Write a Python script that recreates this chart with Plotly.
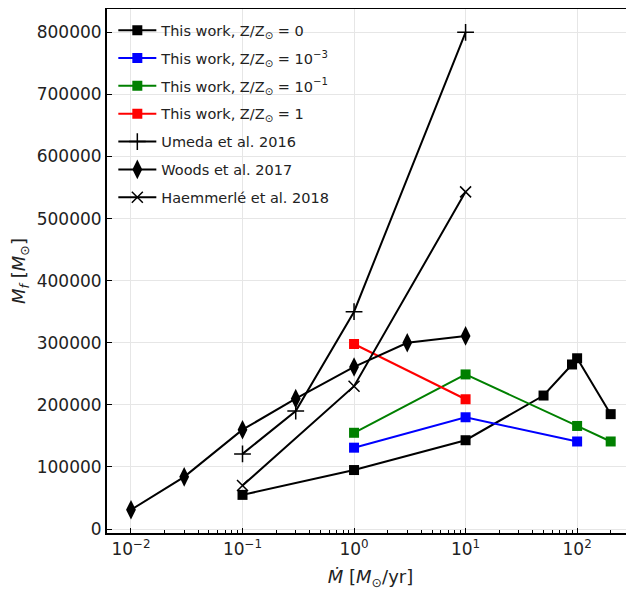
import plotly.graph_objects as go

# Data
z0_x = [0.1, 1, 10, 50, 90, 100, 200]
z0_y = [55000, 95000, 143000, 215000, 265000, 275000, 185000]
z3_x = [1, 10, 100]
z3_y = [131000, 180000, 141000]
z1_x = [1, 10, 100, 200]
z1_y = [155000, 249000, 166000, 141000]
zs_x = [1, 10]
zs_y = [298000, 209000]
umeda_x = [0.1, 0.3, 1, 10]
umeda_y = [121000, 190000, 350000, 800000]
woods_x = [0.01, 0.03, 0.1, 0.3, 1, 3, 10]
woods_y = [31000, 84000, 160000, 210000, 261000, 300000, 311000]
haem_x = [0.1, 1, 10]
haem_y = [70000, 230000, 543000]

x_tickvals = [0.01, 0.1, 1, 10, 100]
x_ticktext = ["10<sup>−2</sup>", "10<sup>−1</sup>", "10<sup>0</sup>", "10<sup>1</sup>", "10<sup>2</sup>"]
x_minorvals = [m * d for d in [0.01, 0.1, 1, 10, 100] for m in range(2, 10)]
y_tickvals = [0, 100000, 200000, 300000, 400000, 500000, 600000, 700000, 800000]
y_ticktext = [str(v) for v in y_tickvals]

series = [
    ("This work, Z/Z<sub>⊙</sub> = 0", z0_x, z0_y, "black", "square", 10, 0),
    ("This work, Z/Z<sub>⊙</sub> = 10<sup>−3</sup>", z3_x, z3_y, "blue", "square", 10, 0),
    ("This work, Z/Z<sub>⊙</sub> = 10<sup>−1</sup>", z1_x, z1_y, "green", "square", 10, 0),
    ("This work, Z/Z<sub>⊙</sub> = 1", zs_x, zs_y, "red", "square", 10, 0),
    ("Umeda et al. 2016", umeda_x, umeda_y, "black", "cross-thin", 12, 1.5),
    ("Woods et al. 2017", woods_x, woods_y, "black", "diamond-tall", 14, 0),
    ("Haemmerlé et al. 2018", haem_x, haem_y, "black", "x-thin", 11, 1.5),
]

fig = go.Figure()
for i, (name, xs, ys, col, sym, size, lw) in enumerate(series):
    fig.add_trace(go.Scatter(
        x=xs, y=ys, name=name, mode="lines+markers",
        line=dict(color=col, width=2),
        marker=dict(symbol=sym, size=size, color=col,
                    line=dict(color=col, width=lw)),
        legendgroup=f"g{i}",
    ))

# page body has an 8px default margin, so the figure is offset by 8px
fig.update_layout(
    width=626, height=586,
    margin=dict(l=99, r=0, t=1, b=61),
    paper_bgcolor="white", plot_bgcolor="white",
    font=dict(family="DejaVu Sans", size=17, color="#222"),
    showlegend=True,
    legend=dict(x=0.012, y=0.99, xanchor="left", yanchor="top",
                bgcolor="rgba(255,255,255,0)", borderwidth=0,
                font=dict(size=14.5, color="#222"),
                traceorder="grouped", tracegroupgap=6,
                itemwidth=38),
    xaxis=dict(
        type="log", range=[-2.215, 2.51], automargin=False,
        tickvals=x_tickvals, ticktext=x_ticktext,
        showgrid=True, gridcolor="#e6e6e6", gridwidth=1,
        showline=True, linecolor="black", linewidth=2, mirror=True,
        ticks="inside", ticklen=5, tickwidth=1, tickcolor="black",
        minor=dict(tickvals=x_minorvals, ticks="inside", ticklen=3, tickwidth=1,
                   tickcolor="black", showgrid=False),
        zeroline=False,
        title=dict(text="<i>Ṁ</i> [<i>M</i><sub>⊙</sub>/yr]", standoff=12,
                   font=dict(size=18)),
    ),
    yaxis=dict(
        range=[-6400, 837500], automargin=False,
        tickvals=y_tickvals, ticktext=y_ticktext,
        showgrid=True, gridcolor="#e6e6e6", gridwidth=1,
        showline=True, linecolor="black", linewidth=2, mirror=False,
        ticks="inside", ticklen=5, tickwidth=1, tickcolor="black",
        zeroline=False,
        title=dict(text="<i>M<sub>f</sub></i> [<i>M</i><sub>⊙</sub>]", standoff=6,
                   font=dict(size=18)),
    ),
)

fig.write_html("out.html")
